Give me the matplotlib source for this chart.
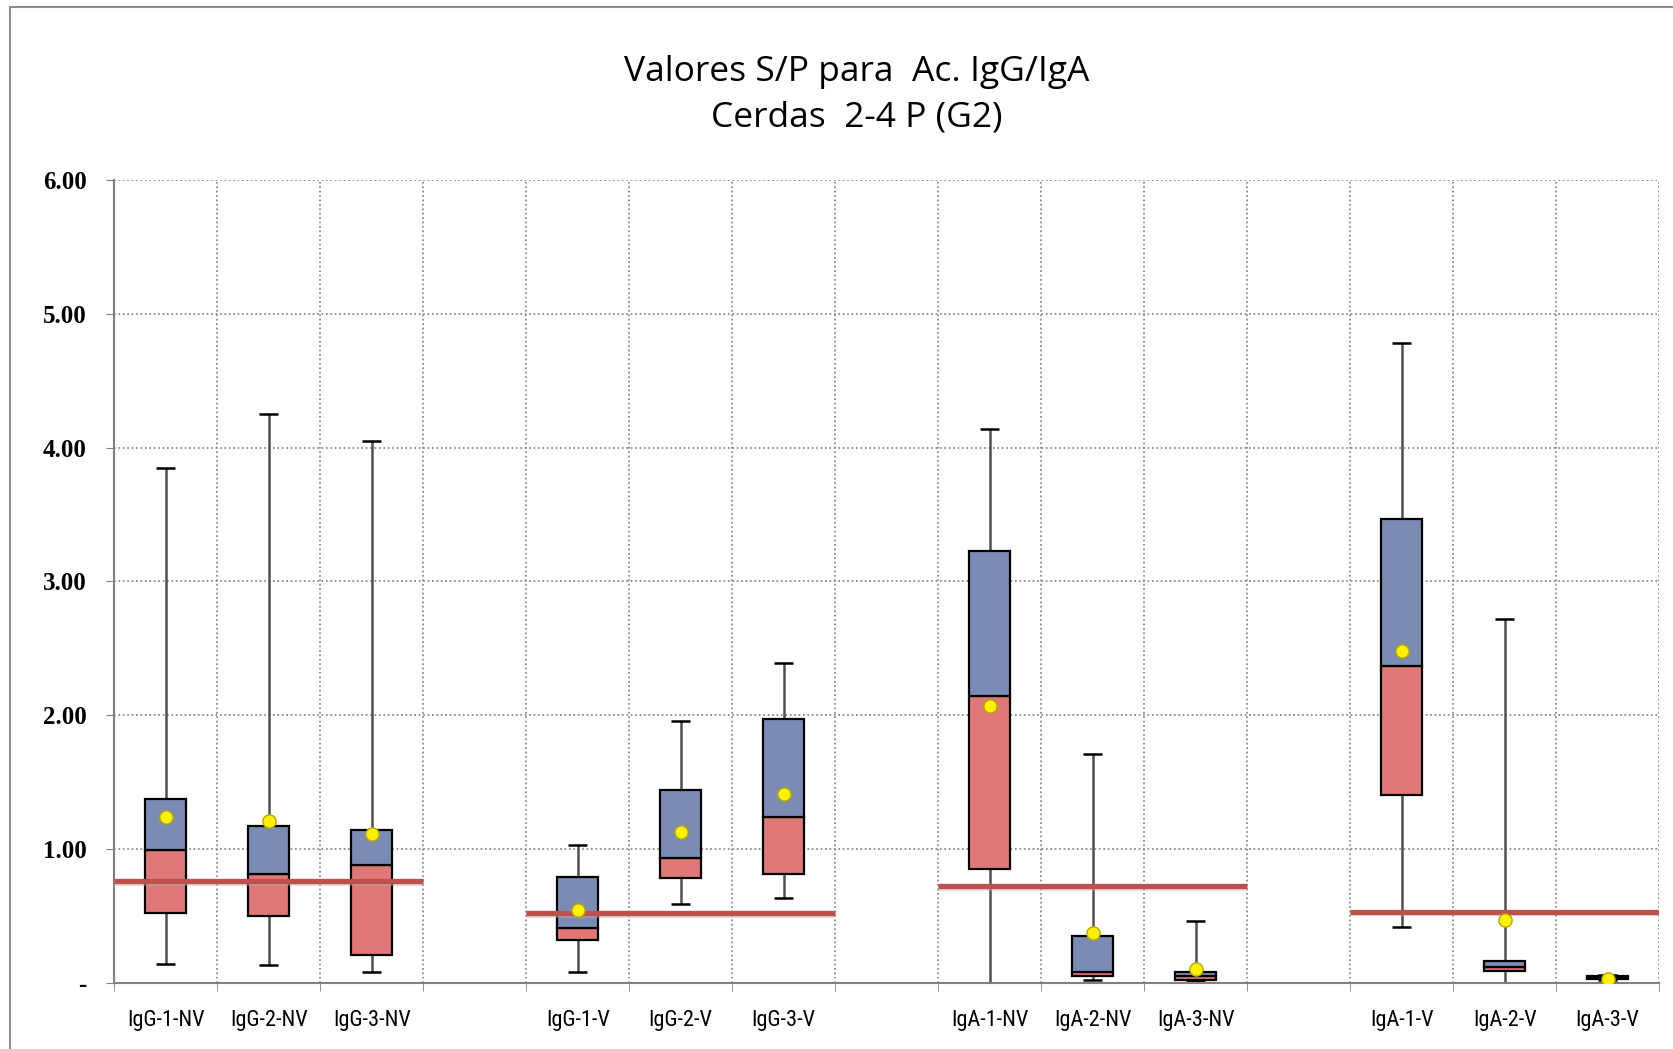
import matplotlib.pyplot as plt
from matplotlib.patches import Rectangle
from matplotlib import font_manager

# categories ('' = empty slot between groups)
labels = ['IgG-1-NV', 'IgG-2-NV', 'IgG-3-NV', '',
          'IgG-1-V', 'IgG-2-V', 'IgG-3-V', '',
          'IgA-1-NV', 'IgA-2-NV', 'IgA-3-NV', '',
          'IgA-1-V', 'IgA-2-V', 'IgA-3-V']

# box statistics per non-empty category
w_min = [0.14, 0.13, 0.08, 0.08, 0.59, 0.63, 0.00, 0.02, 0.01, 0.42, 0.00, 0.02]
q1 = [0.52, 0.50, 0.21, 0.32, 0.78, 0.81, 0.85, 0.05, 0.02, 1.40, 0.09, 0.03]
median = [0.99, 0.81, 0.88, 0.41, 0.93, 1.24, 2.14, 0.08, 0.05, 2.37, 0.12, 0.04]
q3 = [1.37, 1.17, 1.14, 0.79, 1.44, 1.97, 3.23, 0.35, 0.08, 3.47, 0.16, 0.05]
w_max = [3.85, 4.25, 4.05, 1.03, 1.96, 2.39, 4.14, 1.71, 0.46, 4.78, 2.72, 0.06]
mean = [1.24, 1.21, 1.11, 0.54, 1.13, 1.41, 2.07, 0.37, 0.10, 2.48, 0.47, 0.03]

# cut-off per group of three
cutoff = [0.76, 0.52, 0.72, 0.53]

pos = [i for i, l in enumerate(labels) if l]

# narrow font for the category labels if there is one
names = set(f.name for f in font_manager.fontManager.ttflist)
narrow = [n for n in ['Liberation Sans Narrow', 'Arial Narrow', 'Roboto Condensed', 'DejaVu Sans Condensed']
          if n in names]
xfont = dict(family=narrow[:1] + ['DejaVu Sans'], fontsize=16 if narrow else 13.5)
if not narrow:
    xfont['stretch'] = 'condensed'

fig = plt.figure(figsize=(16.73, 10.49), dpi=100)
ax = fig.add_axes([0.0683, 0.0632, 0.9234, 0.765])

# outer frame of the chart area
fig.patches.append(Rectangle((0.006, -0.05), 1.1, 1.043, transform=fig.transFigure,
                             fill=False, edgecolor='#8c8c8c', linewidth=1.5))

bw = 0.40
cap = 0.09
ax.vlines(pos, w_min, w_max, color='#505050', linewidth=1.8, zorder=2)
ax.hlines(w_max, [p - cap for p in pos], [p + cap for p in pos], color='black', linewidth=1.8, zorder=2)
ax.hlines(w_min, [p - cap for p in pos], [p + cap for p in pos], color='black', linewidth=1.8, zorder=2)

low = [m - a for m, a in zip(median, q1)]
high = [b - m for m, b in zip(median, q3)]
ax.bar(pos, low, bottom=q1, width=bw, color='#E07878', edgecolor='black', linewidth=1.6, zorder=3)
ax.bar(pos, high, bottom=median, width=bw, color='#7A8CB4', edgecolor='black', linewidth=1.6, zorder=3)

for g, c in enumerate(cutoff):
    x0 = pos[3 * g] - 0.5
    x1 = pos[3 * g + 2] + 0.5
    ax.plot([x0, x1], [c - 0.012, c - 0.012], color='#b0b0b0', linewidth=4, alpha=0.5,
            solid_capstyle='butt', zorder=4)
    ax.plot([x0, x1], [c, c], color='#C0504D', linewidth=3.8, solid_capstyle='butt', zorder=5)

ax.plot(pos, mean, 'o', color='#FFF200', markeredgecolor='#B8A600', markersize=9.5, zorder=6)

ax.set_xlim(-0.5, len(labels) - 0.5)
ax.set_ylim(0, 6)
ax.set_xticks(range(len(labels)))
ax.set_xticklabels(labels, **xfont)
ax.set_xticks([i - 0.5 for i in range(len(labels) + 1)], minor=True)
ax.tick_params(axis='x', which='major', length=0, pad=20)
ax.tick_params(axis='x', which='minor', length=6, color='#808080', direction='out')

ax.set_yticks(range(7))
ax.set_yticklabels(['-'] + ['%.2f' % v for v in range(1, 7)],
                   family='Liberation Serif', fontweight='bold', fontsize=18)
ax.tick_params(axis='y', length=6, color='#808080', pad=14)

ax.grid(True, which='major', axis='y', linestyle=':', color='#7f7f7f', linewidth=1.2)
ax.grid(True, which='minor', axis='x', linestyle=':', color='#7f7f7f', linewidth=1.2)
ax.set_axisbelow(True)
for s in ['top', 'right']:
    ax.spines[s].set_visible(False)
for s in ['left', 'bottom']:
    ax.spines[s].set_color('#808080')
    ax.spines[s].set_linewidth(1.5)

fig.text(0.512, 0.91, 'Valores S/P para  Ac. IgG/IgA\nCerdas  2-4 P (G2)', ha='center', va='center',
         family=['Open Sans', 'DejaVu Sans'], fontsize=25.5, linespacing=1.45)

fig.savefig('out.png', dpi=100)
